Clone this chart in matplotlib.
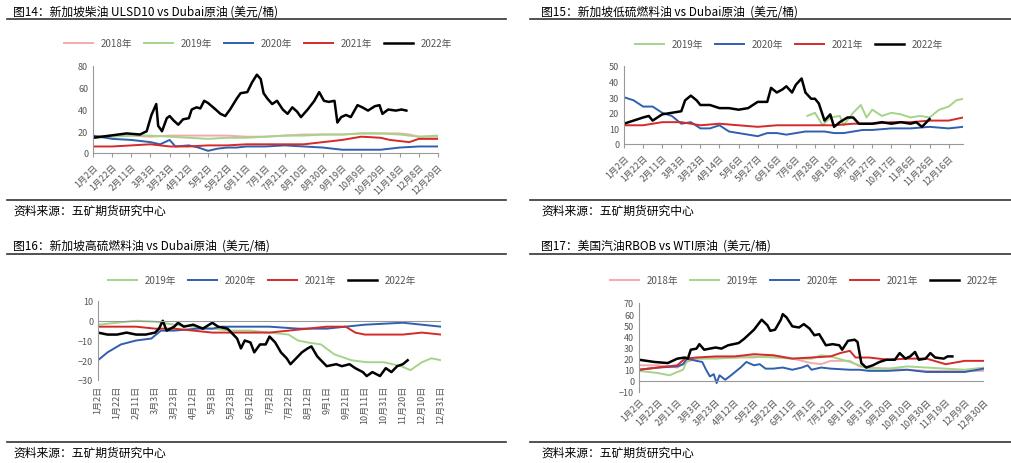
import matplotlib
matplotlib.use("Agg")
import matplotlib.pyplot as plt
import numpy as np

plt.rcParams["font.family"] = ["Noto Sans CJK SC", "DejaVu Sans"]

W, H = 1012, 464
C = {"2018年": "#f4aaaa", "2019年": "#a6d38a", "2020年": "#2f5fb0", "2021年": "#d42a2a", "2022年": "#000000"}

# ---------- Panel 1 data (x = period index matching tick labels) ----------
p1_ticks = ["1月2日","1月22日","2月11日","3月3日","3月23日","4月12日","5月2日","5月22日","6月11日","7月1日",
            "7月21日","8月10日","8月30日","9月19日","10月9日","10月29日","11月18日","12月8日","12月29日"]
p1_2018_x = [0,1,2,3,4,5,6,7,8,9,10,11,12,13,14,15,16,16.5,17,18]
p1_2018_y = [15,16,16,15,16,16,16,16,15,15,16,17,17,17,18,18,18,17,15,15]
p1_2019_x = [0,1,2,3,4,5,6,7,8,9,10,11,12,13,14,15,16,17,18]
p1_2019_y = [14,15,16,16,15,14,13,14,14,15,16,16,17,17,18,18,17,15,16]
p1_2020_x = [0,1,2,3,3.5,4,4.3,5,5.5,6,6.5,7,7.5,8,9,10,11,12,13,14,15,16,17,18]
p1_2020_y = [16,13,12,10,8,12,6,7,5,2,4,5,5,6,6,7,6,5,3,3,3,5,6,6]
p1_2021_x = [0,1,2,3,4,5,6,7,8,9,10,11,12,13,14,15,15.5,16.5,17,18]
p1_2021_y = [6,6,7,8,6,6,7,7,8,8,8,8,10,12,15,14,12,10,13,13]
p1_2022_x = [0,0.9,1.75,2.45,2.8,3.05,3.3,3.4,3.6,3.85,4.0,4.2,4.45,4.7,5.0,5.15,5.4,5.6,5.8,6.0,6.4,6.65,6.9,
             7.15,7.5,7.7,8.05,8.3,8.55,8.75,8.9,9.1,9.35,9.6,9.9,10.15,10.4,10.65,10.85,11.2,11.55,11.8,12.05,
             12.3,12.6,12.75,12.95,13.2,13.45,13.8,14.05,14.35,14.7,14.95,15.1,15.4,15.8,16.1,16.35]
p1_2022_y = [14,16,18,17,20,35,45,25,20,32,34,30,26,31,32,40,42,41,48,46,40,36,34,
             40,50,55,56,65,72,68,55,50,45,48,40,36,42,38,33,40,48,56,48,
             47,48,28,33,35,33,44,42,39,43,44,36,40,39,40,39]

# ---------- Panel 2 data ----------
p2_ticks = ["1月2日","1月22日","2月11日","3月3日","3月23日","4月14日","5月6日","5月27日","6月16日","7月6日",
            "7月28日","8月18日","9月7日","9月27日","10月17日","11月6日","11月26日","12月16日"]
p2_2019_x = [9.6,10,10.4,10.8,11.3,11.5,12,12.4,12.7,13,13.5,14,14.5,15,15.5,16,16.5,17,17.4,17.75]
p2_2019_y = [18,20,12,17,18,12,20,25,17,22,18,20,19,17,18,17,22,24,28,29]
p2_2020_x = [0,0.5,1,1.5,2,2.5,3,3.5,4,4.5,5,5.5,6,6.5,7,7.5,8,8.5,9,9.5,10,10.5,11,11.5,12,12.5,13,14,15,16,17,17.75]
p2_2020_y = [30,28,24,24,20,18,13,14,10,10,12,8,7,6,5,7,7,6,7,8,8,8,7,7,8,9,9,10,10,11,10,11]
p2_2021_x = [0,1,2,3,4,5,6,7,8,9,10,11,12,13,14,15,16,17,17.75]
p2_2021_y = [12,12,14,14,12,13,12,11,12,12,12,12,13,13,14,14,15,15,17]
p2_2022_x = [0,0.5,1,1.3,1.5,2,2.5,3,3.2,3.5,3.8,4,4.5,5,5.5,6,6.5,7,7.5,7.7,8,8.3,8.5,8.8,9,9.3,9.5,9.8,10,
             10.2,10.5,10.8,11,11.3,11.7,12,12.3,12.7,13,13.5,14,14.5,15,15.3,15.6,16]
p2_2022_y = [13,15,17,18,15,19,20,21,28,31,28,25,25,23,23,22,23,27,27,36,33,35,37,33,38,42,33,29,29,
             26,15,19,11,14,17,17,13,13,13,14,13,14,13,14,11,16]

# ---------- Panel 3 data ----------
p3_ticks = ["1月2日","1月22日","2月11日","3月3日","3月23日","4月12日","5月3日","5月23日","6月12日","7月2日",
            "7月22日","8月12日","9月1日","9月21日","10月11日","10月31日","11月20日","12月10日","12月31日"]
p3_2019_x = [0,1,2,3,4,5,6,7,8,9,10,10.5,11,11.7,12.4,13.3,14.1,15,15.9,16.4,17,17.5,18]
p3_2019_y = [-2,-1,0,-0.5,-2,-3,-4,-5,-5,-6,-7,-10,-11,-12,-17,-20,-21,-21,-23,-25,-21,-19,-20]
p3_2020_x = [0,0.5,1.2,2,2.8,3.3,4,5.2,6,6.5,8,9,10.5,12,13,14,15,16,17,18]
p3_2020_y = [-20,-16,-12,-10,-9,-5,-5,-4,-4,-3,-3,-3,-4,-4,-3,-2,-1.5,-1,-2,-3]
p3_2021_x = [0,1,2,3,4,5,6,7,8,9,10,11,12,13,13.5,14,15,16,17,18]
p3_2021_y = [-3,-3,-3,-4,-4,-5,-6,-6,-6,-6,-5,-4,-3,-3,-6,-7,-7,-7,-6,-7]
p3_2022_x = [0,0.5,1,1.5,2,2.5,3,3.2,3.4,3.6,4,4.2,4.5,5,5.5,6,6.3,6.8,7,7.3,7.5,7.7,8,8.2,8.5,8.8,9,9.3,9.6,
             9.9,10.1,10.4,10.7,11,11.2,11.5,11.8,12,12.5,12.8,13.2,13.5,13.9,14.1,14.4,14.8,15.1,15.4,15.7,16,16.25]
p3_2022_y = [-6,-7,-7,-6,-7,-7,-6,-4,0,-5,-3,-1,-3,-2,-4,-1,-3,-4,-6,-9,-14,-10,-11,-16,-12,-12,-8,-11,-16,
             -19,-22,-19,-16,-14,-13,-18,-21,-23,-22,-23,-22,-24,-26,-28,-26,-28,-24,-26,-23,-22,-20]

# ---------- Panel 4 data ----------
p4_ticks = ["1月2日","1月22日","2月11日","3月3日","3月23日","4月12日","5月2日","5月22日","6月11日","7月1日",
            "7月22日","8月11日","8月31日","9月20日","10月10日","10月30日","11月19日","12月9日","12月30日"]
p4_2018_x = [0,1,2,2.5,3,4,5,6,7,8,9,9.5,10,11,11.5,12,13,14,15,16,17,18]
p4_2018_y = [14,14,12,17,20,21,21,21,23,20,16,15,18,18,13,12,11,10,9,9,9,9]
p4_2019_x = [0,1,1.6,2,2.3,2.5,3,4,5,6,7,8,9,9.5,10,11,11.5,12,13,14,15,16,17,18]
p4_2019_y = [9,7,5,8,10,18,20,20,21,22,21,20,20,23,22,17,14,11,11,13,12,11,10,12]
p4_2020_x = [0,1,2,2.3,2.5,3,3.3,3.5,3.7,3.9,4.05,4.2,4.5,4.8,5.3,5.6,6,6.3,6.6,7,7.5,8,8.5,8.8,9,9.5,10,
             11,11.5,12,13,14,15,16,17,18]
p4_2020_y = [10,12,13,15,20,18,17,10,4,6,-2,5,1,5,12,17,14,15,11,11,12,10,12,14,10,12,11,
             10,10,9,9,10,8,8,8,11]
p4_2021_x = [0,1,2,2.4,3,4,5,6,7,8,9,10,10.5,11,11.3,12,13,14,15,16,17,18]
p4_2021_y = [10,12,14,20,21,22,22,24,23,20,21,22,25,27,21,21,19,20,20,15,18,18]
p4_2022_x = [0,0.8,1.5,2,2.4,2.55,2.7,3,3.15,3.4,4,4.3,4.65,5.2,5.5,6,6.4,6.7,6.85,7.1,7.4,7.5,7.7,8.0,8.35,
             8.6,8.9,9.15,9.4,9.75,10.1,10.45,10.6,10.9,11.25,11.4,11.6,11.85,12.2,12.55,12.9,13.35,13.6,13.9,
             14.15,14.4,14.6,14.95,15.2,15.45,15.9,16.1,16.35]
p4_2022_y = [19,17,16,20,21,20,28,29,33,28,30,29,32,34,38,46,55,50,45,46,55,60,57,49,48,
             51,47,41,42,32,33,32,28,36,37,35,16,12,14,17,19,19,25,20,
             22,26,19,20,25,21,20,22,22]

fig = plt.figure(figsize=(W/100, H/100), dpi=100)

def fx(px): return px / W
def fy(py): return 1 - py / H

def make_ax(l, r, t, b, ticks, ylim, yticks, rot, series, legend_xy, xmax, zero_line):
    ax = fig.add_axes([fx(l), fy(b), fx(r - l), (b - t) / H])
    for name, xs, ys in series:
        lw = 1.8 if name == "2022年" else 1.4
        ax.plot(xs, ys, color=C[name], lw=lw, label=name)
    ax.set_xlim(0, xmax)
    ax.set_ylim(*ylim)
    ax.set_yticks(yticks)
    ax.set_xticks(np.arange(len(ticks)))
    ax.set_xticklabels(ticks, rotation=rot, ha="right" if rot == 45 else "center",
                       rotation_mode="anchor" if rot == 45 else "default")
    ax.tick_params(axis="both", labelsize=6.5, colors="#555555", length=0)
    ax.tick_params(axis="x", length=3, color="#999999")
    for s in ["top", "right"]:
        ax.spines[s].set_visible(False)
    ax.spines["left"].set_color("#999999")
    ax.spines["bottom"].set_color("#999999")
    if zero_line:
        ax.spines["bottom"].set_visible(False)
        ax.axhline(0, color="#999999", lw=0.8)
        ax.tick_params(axis="x", length=0)
    lg = ax.legend(loc="center", bbox_to_anchor=(fx(legend_xy[0]), fy(legend_xy[1])),
                   bbox_transform=fig.transFigure, ncol=len(series), frameon=False,
                   fontsize=7, handlelength=3, columnspacing=1.2)
    for t in lg.get_texts():
        t.set_color("#555555")
    return ax

make_ax(93, 438, 67, 154, p1_ticks, (0, 80), [0, 20, 40, 60, 80], 45,
        [("2018年", p1_2018_x, p1_2018_y), ("2019年", p1_2019_x, p1_2019_y),
         ("2020年", p1_2020_x, p1_2020_y), ("2021年", p1_2021_x, p1_2021_y),
         ("2022年", p1_2022_x, p1_2022_y)], (258, 44), 18, False)
make_ax(624, 963, 67, 145, p2_ticks, (0, 50), [0, 10, 20, 30, 40, 50], 45,
        [("2019年", p2_2019_x, p2_2019_y), ("2020年", p2_2020_x, p2_2020_y),
         ("2021年", p2_2021_x, p2_2021_y), ("2022年", p2_2022_x, p2_2022_y)], (789, 45), 17.75, False)
make_ax(98, 441, 302, 381, p3_ticks, (-30, 10), [-30, -20, -10, 0, 10], 90,
        [("2019年", p3_2019_x, p3_2019_y), ("2020年", p3_2020_x, p3_2020_y),
         ("2021年", p3_2021_x, p3_2021_y), ("2022年", p3_2022_x, p3_2022_y)], (262, 281), 18, True)
make_ax(639, 984, 304, 393, p4_ticks, (-10, 70), [-10, 0, 10, 20, 30, 40, 50, 60, 70], 45,
        [("2018年", p4_2018_x, p4_2018_y), ("2019年", p4_2019_x, p4_2019_y),
         ("2020年", p4_2020_x, p4_2020_y), ("2021年", p4_2021_x, p4_2021_y),
         ("2022年", p4_2022_x, p4_2022_y)], (804, 281), 18, True)

titles = [(13, 12, "图14：新加坡柴油 ULSD10 vs Dubai原油 (美元/桶)"),
          (541, 12, "图15：新加坡低硫燃料油 vs Dubai原油  (美元/桶)"),
          (13, 246, "图16：新加坡高硫燃料油 vs Dubai原油  (美元/桶)"),
          (541, 246, "图17：美国汽油RBOB vs WTI原油  (美元/桶)")]
for x, y, s in titles:
    fig.text(fx(x), fy(y), s, fontsize=8.5, va="center", ha="left")
for x, y in [(13, 211), (541, 211), (13, 453), (541, 453)]:
    fig.text(fx(x), fy(y), "资料来源：五矿期货研究中心", fontsize=8.5, va="center", ha="left")

from matplotlib.lines import Line2D
for x0, x1, y in [(7, 506, 20), (530, 1012, 20), (7, 506, 201), (530, 1012, 201),
                  (7, 506, 255), (530, 1012, 255), (7, 506, 443), (530, 1012, 443)]:
    fig.add_artist(Line2D([fx(x0), fx(x1)], [fy(y), fy(y)], color="#333333", lw=1.2))

fig.savefig("out.png", dpi=100, facecolor="white")
